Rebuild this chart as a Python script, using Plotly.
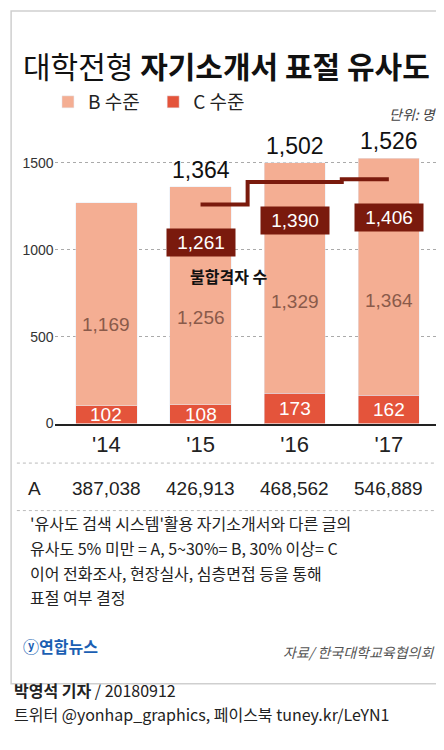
import plotly.graph_objects as go

years = ["'14", "'15", "'16", "'17"]
c_level = [102, 108, 173, 162]
b_level = [1169, 1256, 1329, 1364]
totals = [None, 1364, 1502, 1526]
fail_years = ["'15", "'16", "'17"]
fail_count = [1261, 1390, 1406]
a_level = ["387,038", "426,913", "468,562", "546,889"]
notes = ["'유사도 검색 시스템'활용 자기소개서와 다른 글의",
         "유사도 5% 미만 = A, 5~30%= B, 30% 이상= C",
         "이어 전화조사, 현장실사, 심층면접 등을 통해",
         "표절 여부 결정"]

FONT = "Noto Sans CJK KR"
NUM = "Liberation Sans Narrow, Liberation Sans, Arial"
B_COL = "#f4ae93"
C_COL = "#e4543b"
LINE_COL = "#7a1a0d"

H = 750.0
def py(px):
    return 1 - px / H

fig = go.Figure()
fig.add_trace(go.Bar(x=list(range(4)), y=c_level, name="C 수준", marker_color=C_COL,
                     width=0.65, showlegend=False))
fig.add_trace(go.Bar(x=list(range(4)), y=b_level, name="B 수준", marker_color=B_COL,
                     width=0.65, showlegend=False))
fig.add_trace(go.Scatter(x=[years.index(y) for y in fail_years], y=fail_count, mode="lines",
                         line=dict(color=LINE_COL, width=4, shape="hvh"), showlegend=False))

# legend entries
fig.add_trace(go.Bar(x=[None], y=[None], name="B 수준  ", marker_color=B_COL))
fig.add_trace(go.Bar(x=[None], y=[None], name="C 수준", marker_color=C_COL))

ann = []
for i in range(4):
    ann.append(dict(x=i, y=c_level[i] / 2, text=str(c_level[i]), showarrow=False,
                    font=dict(size=19, color="white", family=NUM)))
    ann.append(dict(x=i, y=c_level[i] + b_level[i] * 0.4, text=f"{b_level[i]:,}", showarrow=False,
                    font=dict(size=19, color="#8a5a4a", family=NUM)))
    if totals[i]:
        ann.append(dict(x=i, y=totals[i], text=f"{totals[i]:,}", showarrow=False, yanchor="bottom",
                        yshift=2, font=dict(size=23, color="#111", family=NUM)))
    ann.append(dict(x=i, y=py(486), yref="paper", text=a_level[i], showarrow=False,
                    font=dict(size=19, color="#222", family=NUM)))
for yr, v in zip(fail_years, fail_count):
    ann.append(dict(x=years.index(yr), y=v, text=f"{v:,}", showarrow=False, yshift=-38,
                    bgcolor=LINE_COL, borderpad=3, width=62,
                    font=dict(size=19, color="white", family=NUM)))
ann.append(dict(x=1.3, y=850, text="<b>불합격자 수</b>", showarrow=False,
                font=dict(size=16, color="#111", family=FONT)))
for k, line in enumerate(notes):
    ann.append(dict(x=0.045, y=py(535 + k * 25), xref="paper", yref="paper", xanchor="left",
                    showarrow=False, text=line, font=dict(size=16, color="#222", family=FONT)))

ann += [
    dict(x=0.03, y=py(33), xref="paper", yref="paper", xanchor="left", showarrow=False,
         text="대학전형 <b>자기소개서 표절 유사도</b>", font=dict(size=30, color="#111", family=FONT)),
    dict(x=0.97, y=py(95), xref="paper", yref="paper", xanchor="right", showarrow=False,
         text="<i>단위: 명</i>", font=dict(size=14, color="#444", family=FONT)),
    dict(x=0.04, y=py(486), xref="paper", yref="paper", xanchor="left", showarrow=False,
         text="A", font=dict(size=19, color="#222", family=NUM)),
    dict(x=0.03, y=py(659), xref="paper", yref="paper", xanchor="left", showarrow=False,
         text="<b>ⓨ연합뉴스</b>", font=dict(size=16, color="#1b5fb3", family=FONT)),
    dict(x=0.965, y=py(663), xref="paper", yref="paper", xanchor="right", showarrow=False,
         text="<i>자료/ 한국대학교육협의회</i>", font=dict(size=14, color="#555", family=FONT)),
    dict(x=0.01, y=py(703), xref="paper", yref="paper", xanchor="left", showarrow=False,
         text="<b>박영석 기자</b> / 20180912", font=dict(size=16, color="#222", family=FONT)),
    dict(x=0.01, y=py(728), xref="paper", yref="paper", xanchor="left", showarrow=False,
         text="트위터 @yonhap_graphics, 페이스북 tuney.kr/LeYN1", font=dict(size=16, color="#222", family=FONT)),
]

shapes = [
    dict(type="rect", xref="paper", yref="paper", x0=0.007, x1=0.993, y0=py(683), y1=py(3),
         line=dict(color="#cfcfcf", width=1.5)),
    dict(type="line", xref="paper", yref="paper", x0=0.02, x1=0.98, y0=py(460), y1=py(460),
         line=dict(color="#bbb", width=1, dash="dot")),
    dict(type="line", xref="paper", yref="paper", x0=0.02, x1=0.98, y0=py(508), y1=py(508),
         line=dict(color="#bbb", width=1, dash="dot")),
]

fig.update_layout(
    width=444, height=750, margin=dict(l=0, r=0, t=0, b=0),
    paper_bgcolor="white", plot_bgcolor="white", barmode="stack",
    annotations=ann, shapes=shapes,
    legend=dict(orientation="h", x=0.09, y=py(95), yanchor="middle", xanchor="left",
                font=dict(size=19, color="#222", family=FONT), traceorder="normal",
                itemwidth=30),
    xaxis=dict(domain=[0.105, 0.968], range=[-0.55, 3.52], tickvals=list(range(4)), ticktext=years,
               tickfont=dict(size=22, color="#222", family=NUM), showgrid=False, ticks="",
               showline=True, linecolor="#222", linewidth=2, zeroline=False),
    yaxis=dict(domain=[py(420), py(125)], range=[0, 1680], tickvals=[0, 500, 1000, 1500],
               tickfont=dict(size=14, color="#333", family=NUM), gridcolor="#aaa", griddash="dot",
               zeroline=False, showline=False),
)
fig.write_html("out.html")
